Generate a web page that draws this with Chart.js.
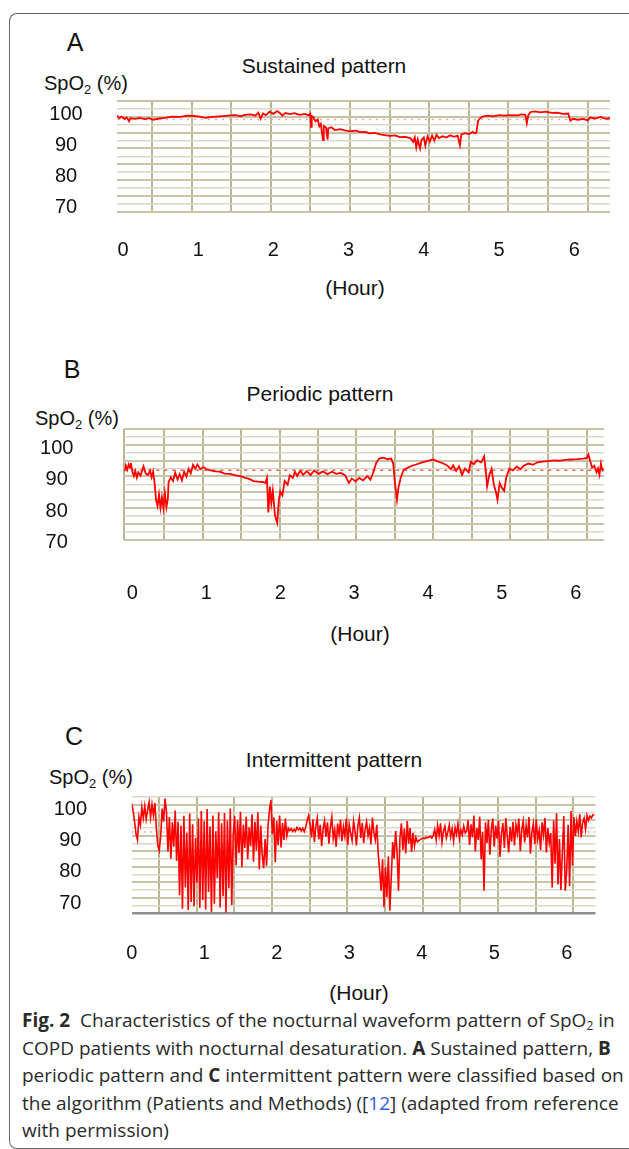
<!DOCTYPE html>
<html>
<head>
<meta charset="utf-8">
<script src="https://cdn.jsdelivr.net/npm/chart.js@4.4.1/dist/chart.umd.min.js"></script>
<style>
  html, body { margin: 0; padding: 0; background: #fff; }
  body { width: 629px; height: 1149px; position: relative; overflow: hidden;
         font-family: "Liberation Sans", Arial, sans-serif; color: #111; }
  .frame { position: absolute; left: 9px; top: 13px; width: 700px; height: 1134px;
           border: 1px solid #666; border-right: none; border-radius: 8px 0 0 8px; }
  .t { position: absolute; line-height: 1; white-space: nowrap; transform: translate(-50%, -50%); }
  .lbl { position: absolute; line-height: 1; white-space: nowrap; transform: translateY(-50%); font-size: 20px; }
  .lbl sub { font-size: 13px; vertical-align: -4px; line-height: 0; }
  canvas { position: absolute; left: 0; }
  .cap { position: absolute; left: 22px; top: 1007px; font-family: "Open Sans", sans-serif;
         font-size: 19px; line-height: 27.5px; color: #2a2a2a; white-space: nowrap; }
  .cap sub { font-size: 12px; line-height: 0; vertical-align: -3px; }
  .ref { color: #2b5fd9; }
</style>
</head>
<body>
<div class="frame"></div>

<div class="t" style="left:75px;top:42px;font-size:25px">A</div>
<div class="t" style="left:324px;top:65px;font-size:21px">Sustained pattern</div>
<div class="lbl" style="left:44px;top:83px">SpO<sub>2</sub> (%)</div>
<canvas id="chartA"></canvas>
<div class="t" style="left:355px;top:287px;font-size:21px">(Hour)</div>

<div class="t" style="left:72px;top:369px;font-size:25px">B</div>
<div class="t" style="left:320px;top:393px;font-size:21px">Periodic pattern</div>
<div class="lbl" style="left:35px;top:418px">SpO<sub>2</sub> (%)</div>
<canvas id="chartB"></canvas>
<div class="t" style="left:360px;top:633px;font-size:21px">(Hour)</div>

<div class="t" style="left:74px;top:736px;font-size:25px">C</div>
<div class="t" style="left:334px;top:759px;font-size:21px">Intermittent pattern</div>
<div class="lbl" style="left:49px;top:777px">SpO<sub>2</sub> (%)</div>
<canvas id="chartC"></canvas>
<div class="t" style="left:359px;top:992px;font-size:21px">(Hour)</div>

<div class="cap"><b>Fig. 2</b>&nbsp; Characteristics of the nocturnal waveform pattern of SpO<sub>2</sub> in<br>COPD patients with nocturnal desaturation. <b>A</b> Sustained pattern, <b>B</b><br>periodic pattern and <b>C</b> intermittent pattern were classified based on<br>the algorithm (Patients and Methods) ([<span class="ref">12</span>] (adapted from reference<br>with permission)</div>

<script>
const HOUR_TICKS = [0, 1, 2, 3, 4, 5, 6];
const SPO2_TICKS = [70, 80, 90, 100];

// A - sustained pattern
const A_HOURS = [-0.08, -0.05, -0.02, 0.02, 0.05, 0.08, 0.10, 0.16, 0.22, 0.29, 0.35, 0.40, 0.48, 0.56, 0.65, 0.76, 0.85, 0.95,
  1.02, 1.10, 1.18, 1.29, 1.40, 1.50, 1.56, 1.62, 1.70, 1.76, 1.80, 1.83, 1.86, 1.90, 1.95, 2.00, 2.05, 2.09, 2.12, 2.16,
  2.22, 2.28, 2.35, 2.42, 2.47, 2.49, 2.50, 2.51, 2.53, 2.56, 2.59, 2.61, 2.63, 2.66, 2.67, 2.70, 2.72, 2.73, 2.77, 2.82,
  2.89, 2.95, 3.02, 3.10, 3.15, 3.22, 3.28, 3.35, 3.42, 3.50, 3.55, 3.62, 3.68, 3.75, 3.82, 3.86, 3.88, 3.90, 3.92, 3.95,
  3.97, 4.00, 4.02, 4.05, 4.08, 4.11, 4.14, 4.17, 4.20, 4.25, 4.30, 4.35, 4.40, 4.45, 4.48, 4.50, 4.55, 4.60, 4.65, 4.68,
  4.70, 4.72, 4.74, 4.78, 4.85, 4.92, 5.00, 5.08, 5.15, 5.25, 5.30, 5.35, 5.37, 5.39, 5.42, 5.48, 5.55, 5.62, 5.70, 5.78,
  5.85, 5.92, 5.95, 5.98, 6.05, 6.12, 6.18, 6.21, 6.28, 6.35, 6.42, 6.48];
const A_SPO2 = [99.6, 98.8, 99.3, 98.6, 99.0, 97.8, 98.8, 98.6, 98.9, 98.5, 98.8, 98.3, 98.7, 98.9, 99.3, 99.2, 99.6, 99.5,
  99.3, 98.9, 99.2, 99.4, 99.6, 99.8, 99.4, 99.9, 100.0, 99.6, 100.6, 98.6, 100.3, 99.8, 100.9, 100.2, 101.1, 100.4, 99.6, 100.5,
  100.1, 100.4, 99.9, 100.2, 99.7, 100.3, 96.0, 99.5, 99.2, 97.8, 98.4, 96.2, 97.0, 91.8, 96.3, 95.8, 91.9, 95.5, 95.9, 95.0,
  95.3, 94.9, 94.6, 94.8, 94.3, 94.4, 93.9, 94.1, 93.6, 93.3, 93.1, 93.3, 92.7, 92.8, 92.4, 91.2, 92.6, 89.4, 92.0, 89.1,
  91.8, 92.6, 90.0, 92.9, 91.2, 93.2, 91.6, 93.5, 92.4, 93.0, 92.6, 93.3, 92.8, 93.2, 90.1, 93.6, 94.0, 93.7, 94.4, 93.9,
  94.2, 97.8, 98.6, 99.3, 99.6, 99.4, 99.8, 99.6, 99.8, 99.7, 100.0, 99.9, 97.2, 99.8, 100.8, 101.0, 100.7, 100.9, 100.5, 100.6,
  100.2, 100.3, 98.0, 98.6, 98.3, 98.6, 98.1, 99.0, 98.7, 99.2, 98.6, 98.8];
const A_BASELINE = 98.4;

// B - periodic pattern
const B_HOURS = [-0.11, -0.09, -0.07, -0.05, -0.03, -0.02, 0.00, 0.02, 0.04, 0.06, 0.08, 0.11, 0.15, 0.18, 0.21, 0.24, 0.26, 0.28,
  0.30, 0.32, 0.34, 0.36, 0.38, 0.40, 0.42, 0.44, 0.46, 0.48, 0.49, 0.52, 0.55, 0.58, 0.61, 0.64, 0.67, 0.70, 0.73, 0.76,
  0.79, 0.82, 0.85, 0.88, 0.92, 0.96, 1.01, 1.06, 1.12, 1.18, 1.25, 1.32, 1.40, 1.46, 1.52, 1.58, 1.64, 1.70, 1.76, 1.80,
  1.82, 1.84, 1.86, 1.88, 1.90, 1.93, 1.96, 1.98, 2.00, 2.03, 2.06, 2.10, 2.13, 2.17, 2.20, 2.23, 2.27, 2.31, 2.36, 2.41,
  2.46, 2.52, 2.58, 2.64, 2.70, 2.76, 2.82, 2.88, 2.93, 2.97, 3.02, 3.07, 3.12, 3.18, 3.22, 3.26, 3.30, 3.34, 3.40, 3.45,
  3.50, 3.53, 3.55, 3.58, 3.60, 3.63, 3.67, 3.72, 3.78, 3.84, 3.90, 3.96, 4.02, 4.07, 4.13, 4.20, 4.26, 4.31, 4.34, 4.38,
  4.42, 4.46, 4.50, 4.55, 4.58, 4.62, 4.66, 4.72, 4.76, 4.78, 4.80, 4.83, 4.86, 4.89, 4.92, 4.94, 4.97, 5.00, 5.03, 5.06,
  5.10, 5.15, 5.20, 5.25, 5.30, 5.36, 5.42, 5.48, 5.55, 5.62, 5.70, 5.78, 5.86, 5.94, 6.02, 6.10, 6.15, 6.17, 6.19, 6.22,
  6.25, 6.28, 6.30, 6.32, 6.34, 6.36, 6.38];
const B_SPO2 = [92.7, 94.6, 93.2, 94.9, 93.8, 95.4, 92.5, 91.2, 92.8, 90.7, 92.4, 91.3, 94.3, 92.0, 91.5, 92.9, 90.8, 92.6,
  89.0, 83.5, 81.6, 85.2, 81.0, 84.4, 80.9, 85.6, 81.2, 84.0, 89.3, 90.8, 89.6, 92.3, 90.1, 91.8, 89.8, 92.6, 91.0, 93.5,
  92.1, 94.8, 93.6, 94.9, 93.4, 94.1, 93.3, 93.0, 92.7, 92.6, 92.0, 91.9, 91.4, 91.2, 90.7, 90.3, 89.6, 89.4, 89.3, 89.0,
  90.6, 79.5, 87.8, 82.6, 86.5, 78.4, 76.2, 83.1, 86.2, 85.0, 89.6, 88.4, 91.5, 90.6, 92.6, 91.2, 92.9, 91.6, 92.8, 91.5,
  93.0, 91.9, 92.7, 91.8, 92.6, 91.9, 92.2, 91.4, 89.0, 90.4, 89.5, 90.6, 89.8, 91.2, 90.0, 92.4, 95.5, 96.8, 97.1, 96.6,
  96.8, 95.2, 89.6, 83.6, 87.4, 90.6, 93.2, 93.8, 94.5, 94.9, 95.4, 95.8, 96.2, 96.5, 95.9, 95.3, 94.6, 93.4, 94.6, 92.8,
  94.3, 91.6, 93.6, 92.4, 95.8, 95.0, 96.2, 95.6, 97.5, 93.2, 87.9, 91.6, 93.5, 88.6, 86.0, 83.6, 89.0, 87.4, 86.5, 90.8,
  93.6, 93.0, 94.3, 93.4, 94.6, 95.2, 94.8, 95.6, 95.8, 96.0, 96.2, 96.1, 96.4, 96.5, 96.6, 96.8, 97.0, 98.1, 96.4, 93.9,
  94.5, 92.4, 93.6, 91.6, 95.2, 93.0, 93.4];
const B_BASELINE = 93.1;

// C - intermittent pattern, one reading every 0.02 h
const C_STEP = 0.02;
const C_SPO2 = [
  101.8, 99.5, 96.0, 92.0, 90.2, 97.5, 95.0, 100.6, 97.2, 101.0, 96.8, 99.8, 102.3, 97.4, 101.5, 98.0, 102.0,
  94.0, 88.5, 86.8, 91.5, 100.2, 96.0, 103.4,
  99.0, 86.5, 97.5, 84.2, 95.8, 88.0, 99.6, 83.5,
  96.0, 72.5, 94.8, 68.2, 97.9, 75.0, 92.5, 67.8, 98.6, 70.4, 95.2, 69.0, 90.8, 76.5, 97.0, 68.5,
  99.4, 71.0, 96.2, 68.0, 100.1, 73.6, 94.5, 67.2, 98.0, 69.8, 93.0, 78.0, 99.0, 68.6, 95.5, 72.2, 98.8, 67.0, 96.4, 74.8, 100.2, 69.4, 92.0,
  97.8, 82.0, 96.5, 86.0, 99.2, 81.5, 95.0, 87.6, 97.6, 84.0, 94.2, 88.2, 98.4, 83.2, 96.0, 86.8, 99.0, 80.8, 94.8, 85.4,
  81.2, 90.5, 82.0,
  94.6, 99.8, 102.9, 92.0, 97.4, 83.1, 96.2, 88.5, 98.0, 87.8, 95.6, 90.2, 97.0, 91.5,
  94.0, 93.2, 93.8, 92.9, 93.6, 93.0, 94.2, 93.4, 94.0, 93.1, 93.9, 92.8, 94.3,
  96.4, 98.0, 95.2,
  91.0, 96.8, 89.5, 94.6, 97.2, 90.4, 95.0, 88.2, 93.8, 96.4, 91.2, 95.8, 89.0, 94.2, 97.5, 90.6, 93.5, 88.0, 95.4, 92.0,
  96.6, 89.8, 94.4, 91.4, 97.0, 88.6, 95.2, 92.4, 90.0, 96.2, 93.0, 88.4, 94.8, 97.4, 90.8, 95.6, 89.2, 93.6, 96.0, 91.6,
  94.0, 88.8, 97.3, 92.6, 90.2, 95.0,
  86.0, 80.5, 74.0, 84.0, 68.7, 81.5, 72.0, 85.0, 67.6, 78.0, 89.5, 84.2, 93.0, 86.5, 74.0, 90.8,
  95.5, 87.0, 93.8, 85.9, 96.2, 89.0, 94.0, 86.4, 92.5, 88.2, 91.0,
  89.6, 90.0, 90.3, 90.6, 90.8, 90.6, 91.0, 90.9, 91.1, 91.4, 90.8, 91.6,
  93.5, 90.2, 94.8, 91.6, 95.5, 89.4, 93.0, 94.6, 90.8, 92.6, 95.0, 91.2, 93.8, 89.8, 94.2, 92.0, 95.3, 90.6, 93.4, 91.8, 94.6, 92.4, 93.0,
  96.5, 88.6, 95.2, 91.0, 98.0, 86.5, 94.0, 90.2, 97.6, 84.0, 92.8, 74.0, 95.8, 89.2, 96.6, 85.5, 93.4, 97.0, 88.0, 94.8,
  90.6, 96.4, 84.8, 92.2, 95.6, 87.6, 97.2, 91.4, 86.2, 94.4, 89.6, 96.0,
  88.4, 95.0, 92.2, 97.0, 86.6, 93.6, 96.2, 89.4, 94.8, 91.0, 97.5, 85.8, 92.6, 95.4, 88.8, 96.8, 90.4, 93.2, 87.0, 95.8,
  91.8, 97.2, 86.2, 94.0, 89.2, 92.4, 75.0,
  96.5, 82.6, 98.7, 76.0, 90.5, 74.2, 86.0, 97.8, 74.0, 80.2, 95.0, 75.5, 99.4, 82.0,
  97.5, 91.5, 96.2, 93.0, 98.4, 91.0, 95.8, 97.2, 93.6, 98.0, 96.4, 97.8, 97.2, 98.2, 98.0];
const C_BASELINE = 92.7;

Chart.defaults.font.family = '"Liberation Sans", Arial, sans-serif';

function drawPanel(id, p) {
    const cv = document.getElementById(id);
    const top = p.plot.top - 12;
    const bottom = p.tickY + 16;
    cv.width = 629;
    cv.height = Math.round(bottom - top);
    cv.style.top = top + 'px';

    // scale ranges so that the labels land where the original figure has them
    const xMin = (p.plot.left - p.x0) / p.pxHour;
    const xMax = (p.plot.right - p.x0) / p.pxHour;
    const yMax = 85 + (p.y85 - p.plot.top) / p.pxPct;
    const yMin = 85 - (p.plot.bottom - p.y85) / p.pxPct;
    const gxMin = (p.plot.left - p.gx0) / p.gxStep;
    const gxMax = (p.plot.right - p.gx0) / p.gxStep;
    const gxTicks = [];
    if (p.edgeLine) gxTicks.push(gxMin);
    for (let k = 0; k <= 11; k++) gxTicks.push(k);
    const gyTicks = [];
    for (let k = 0; k <= p.gyN; k++) gyTicks.push(k);

    const noPad = s => { s.paddingLeft = s.paddingRight = s.paddingTop = s.paddingBottom = 0; };

    new Chart(cv, {
        type: 'line',
        data: {
            datasets: [
                {
                    data: p.points,
                    xAxisID: 'x', yAxisID: 'y',
                    borderColor: '#ff0000',
                    borderWidth: p.lw,
                    pointRadius: 0,
                    tension: 0,
                    order: 1
                },
                {
                    data: [{x: xMin, y: p.base}, {x: xMax, y: p.base}],
                    xAxisID: 'x', yAxisID: 'y',
                    borderColor: p.baseColor,
                    borderWidth: 1.5,
                    borderDash: p.dash,
                    pointRadius: 0,
                    order: 2
                }
            ]
        },
        options: {
            responsive: false,
            animation: false,
            events: [],
            layout: {padding: {top: 12, left: 0, right: 629 - p.plot.right, bottom: 0}},
            plugins: {legend: {display: false}, tooltip: {enabled: false}},
            scales: {
                x: {
                    type: 'linear', position: 'bottom', min: xMin, max: xMax,
                    grid: {display: false, drawTicks: false},
                    border: {display: false},
                    afterBuildTicks: s => { s.ticks = HOUR_TICKS.map(v => ({value: v})); },
                    ticks: {padding: p.tickY - p.plot.bottom - 12, color: '#111', font: {size: 20}, maxRotation: 0, autoSkip: false},
                    afterFit: s => { s.height = bottom - p.plot.bottom; noPad(s); }
                },
                gx: {
                    type: 'linear', position: 'bottom', min: gxMin, max: gxMax,
                    ticks: {display: false},
                    grid: {color: '#b9b693', lineWidth: 2, drawTicks: false},
                    border: {display: false},
                    afterBuildTicks: s => { s.ticks = gxTicks.map(v => ({value: v})); },
                    afterFit: s => { s.height = 0; noPad(s); }
                },
                y: {
                    type: 'linear', position: 'left', min: yMin, max: yMax,
                    grid: {display: false, drawTicks: false},
                    border: {display: false},
                    afterBuildTicks: s => { s.ticks = SPO2_TICKS.map(v => ({value: v})); },
                    ticks: {padding: p.plot.left - p.yLabelCx - 16.7, crossAlign: 'center', color: '#111', font: {size: 20}, autoSkip: false},
                    afterFit: s => { s.width = p.plot.left; noPad(s); }
                },
                gy: {
                    type: 'linear', position: 'left', min: 0, max: p.gyN,
                    ticks: {display: false},
                    grid: {
                        drawTicks: false,
                        color: c => (p.bottomLine && c.index === 0) ? '#8e8e8e' : (c.index % 2 ? '#dbd9c4' : '#c6c4a4'),
                        lineWidth: c => (p.bottomLine && c.index === 0) ? 2.5 : (c.index % 2 ? 1.5 : 2)
                    },
                    border: {display: false},
                    afterBuildTicks: s => { s.ticks = gyTicks.map(v => ({value: v})); },
                    afterFit: s => { s.width = 0; noPad(s); }
                }
            }
        }
    });
}

drawPanel('chartA', {
    points: A_HOURS.map((h, i) => ({x: h, y: A_SPO2[i]})),
    base: A_BASELINE, baseColor: '#f5a5a5', dash: [2, 5], lw: 1.8,
    plot: {left: 117, right: 610, top: 100.7, bottom: 211.7},
    x0: 123, pxHour: 75.2, y85: 161, pxPct: 3.12,
    tickY: 250, yLabelCx: 66,
    gx0: 152, gxStep: 39.6, gyN: 14
});

drawPanel('chartB', {
    points: B_HOURS.map((h, i) => ({x: h, y: B_SPO2[i]})),
    base: B_BASELINE, baseColor: '#f06060', dash: [3, 5], lw: 1.8,
    plot: {left: 124.3, right: 604, top: 429.3, bottom: 540},
    x0: 132.4, pxHour: 73.9, y85: 495.7, pxPct: 3.12,
    tickY: 593.3, yLabelCx: 56.7,
    gx0: 164.3, gxStep: 38.4, gyN: 14, edgeLine: true
});

drawPanel('chartC', {
    points: C_SPO2.map((v, i) => ({x: i * C_STEP, y: v})),
    base: C_BASELINE, baseColor: '#f5a5a5', dash: [2, 4], lw: 1.6,
    plot: {left: 131.7, right: 595.5, top: 796.7, bottom: 912.3},
    x0: 131.7, pxHour: 72.5, y85: 855.7, pxPct: 3.12,
    tickY: 952.3, yLabelCx: 70.3,
    gx0: 159, gxStep: 37.66, gyN: 15, bottomLine: true
});
</script>
</body>
</html>
